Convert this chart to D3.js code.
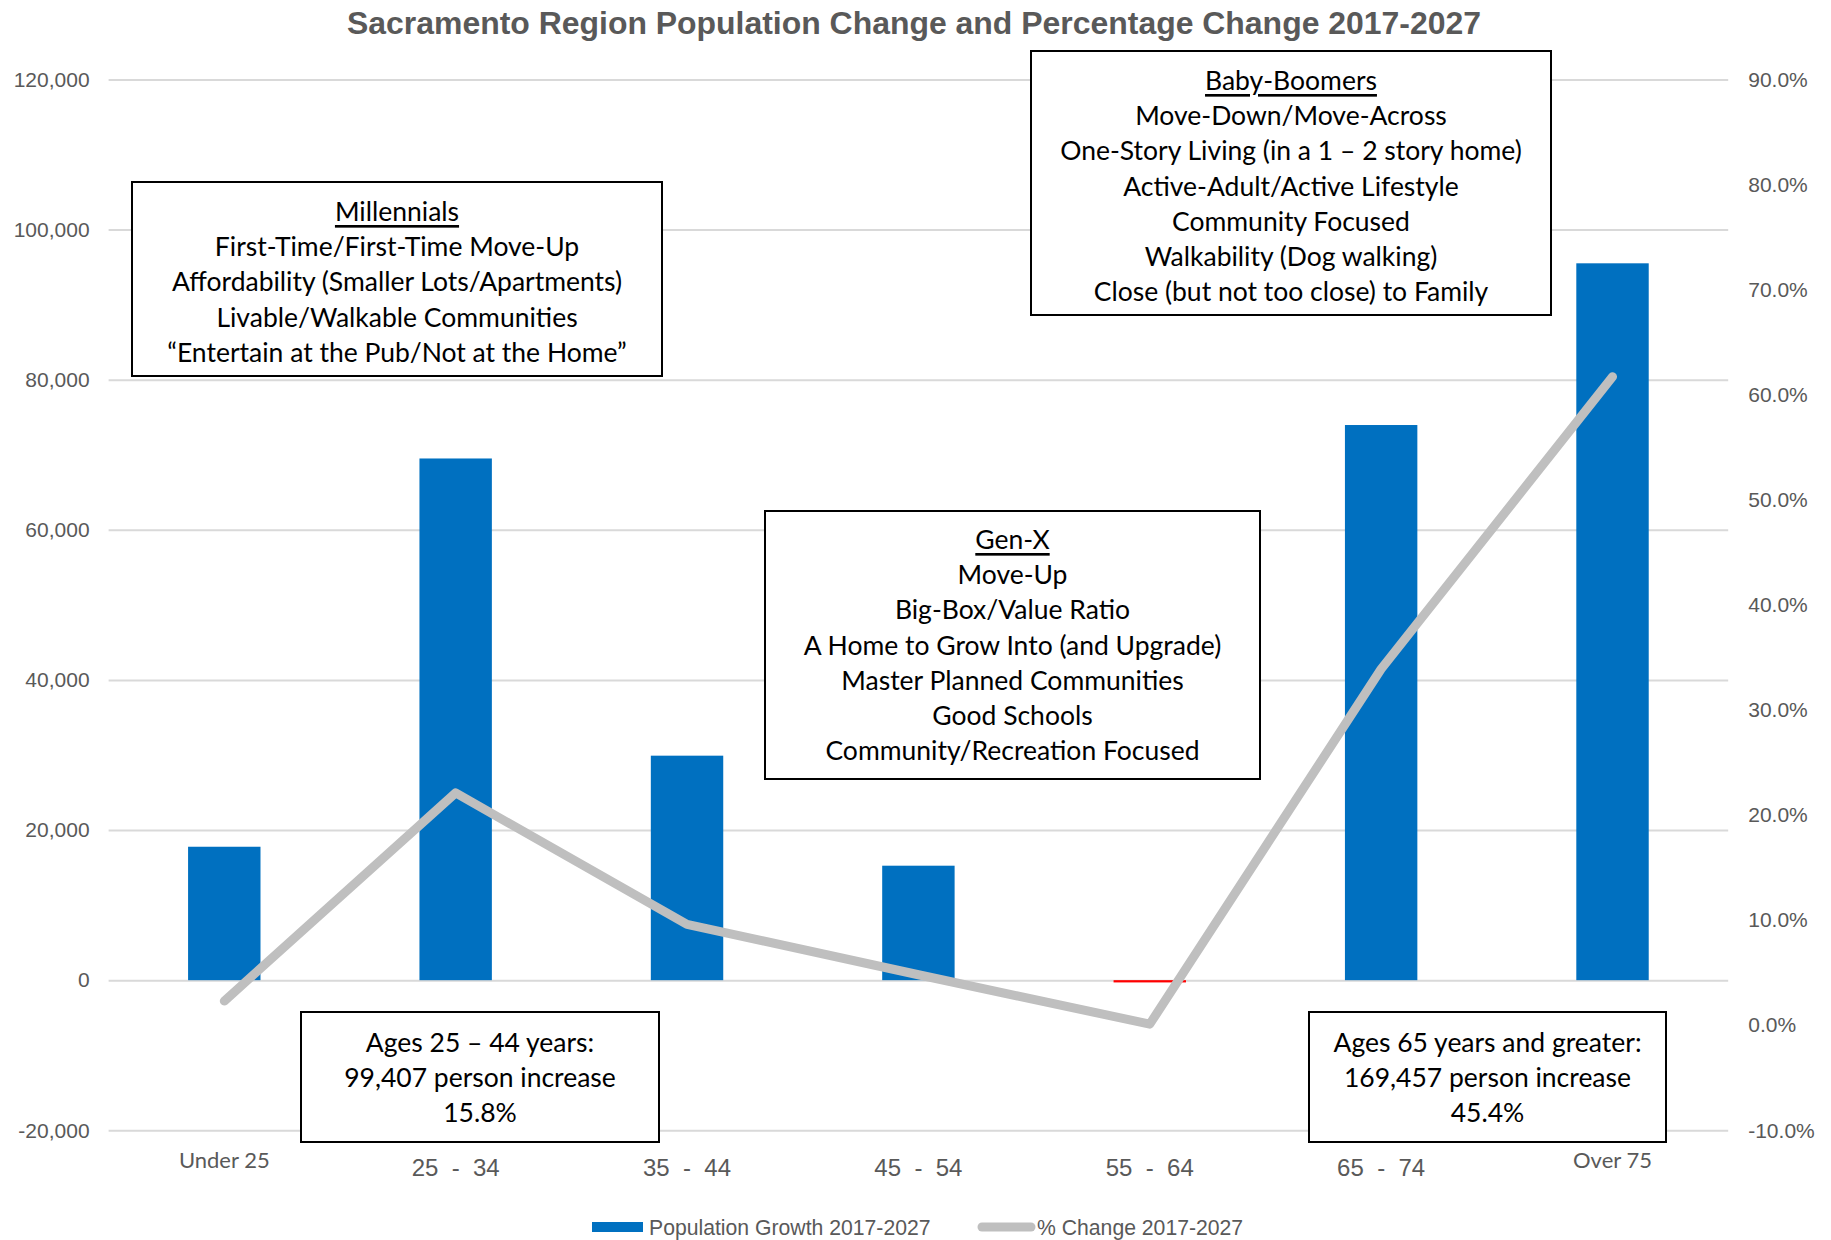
<!DOCTYPE html>
<html>
<head>
<meta charset="utf-8">
<script src="https://cdn.jsdelivr.net/npm/d3@7"></script>
<style>
  body { margin: 0; background: #fff; }
  text { font-family: "Liberation Sans", Arial, sans-serif; }
  .box text { font-family: Lato, "Open Sans", sans-serif; fill: #000; }
</style>
</head>
<body>
<div id="container"></div>
<script>
// age groups along the bottom
const categories = ["Under 25", "25 - 34", "35 - 44", "45 - 54", "55 - 64", "65 - 74", "Over 75"];
// population growth 2017-2027 (bars, left axis)
const popGrowth = [17775, 69500, 29907, 15250, -300, 73957, 95500];
// % change 2017-2027 (line, right axis)
const pctChange = [0.023, 0.221, 0.096, 0.048, 0.001, 0.339, 0.617];
// axis ticks
const leftTicks = [-20000, 0, 20000, 40000, 60000, 80000, 100000, 120000];
const rightTicks = [-0.1, 0, 0.1, 0.2, 0.3, 0.4, 0.5, 0.6, 0.7, 0.8, 0.9];

// annotation boxes: first line of the generation boxes is underlined
const boxMillennials = ["Millennials", "First-Time/First-Time Move-Up", "Affordability (Smaller Lots/Apartments)", "Livable/Walkable Communities", "\u201CEntertain at the Pub/Not at the Home\u201D"];
const boxBoomers = ["Baby-Boomers", "Move-Down/Move-Across", "One-Story Living (in a 1 \u2013 2 story home)", "Active-Adult/Active Lifestyle", "Community Focused", "Walkability (Dog walking)", "Close (but not too close) to Family"];
const boxGenX = ["Gen-X", "Move-Up", "Big-Box/Value Ratio", "A Home to Grow Into (and Upgrade)", "Master Planned Communities", "Good Schools", "Community/Recreation Focused"];
const boxYoung = ["Ages 25 \u2013 44 years:", "99,407 person increase", "15.8%"];
const boxOld = ["Ages 65 years and greater:", "169,457 person increase", "45.4%"];

const width = 1831;
const height = 1240;
const plotLeft = 108.6;
const plotRight = 1728.2;
const plotTop = 79.4;
const plotBottom = 1130.3;
const grey = "#595959";

// Excel uses a plain hyphen for negatives
const fmtLeft = d => d3.format(",")(d).replace("\u2212", "-");
const fmtRight = d => d3.format(".1%")(d).replace("\u2212", "-");

const svg = d3.select("#container")
    .append("svg")
    .attr("width", width)
    .attr("height", height);

const x = d3.scaleBand()
    .domain(categories)
    .range([plotLeft, plotRight])
    .padding(0);
const barWidth = x.bandwidth() * 0.313;

const yLeft = d3.scaleLinear()
    .domain([-20000, 120000])
    .range([plotBottom, plotTop]);

const yRight = d3.scaleLinear()
    .domain([-0.1, 0.9])
    .range([plotBottom, plotTop]);

//gridlines from the left axis
svg.append("g")
    .attr("transform", `translate(${plotLeft},0)`)
    .call(d3.axisLeft(yLeft).tickValues(leftTicks).tickSize(-(plotRight - plotLeft)).tickFormat(""))
    .call(g => g.select(".domain").remove())
    .call(g => g.selectAll("line").attr("stroke", "#D9D9D9").attr("stroke-width", 2));

//left axis labels
svg.append("g")
    .attr("transform", `translate(${plotLeft},0)`)
    .call(d3.axisLeft(yLeft).tickValues(leftTicks).tickSize(0).tickPadding(19).tickFormat(fmtLeft))
    .call(g => g.select(".domain").remove())
    .call(g => g.selectAll("text").attr("fill", grey).style("font-size", "21px").style("font-family", "Liberation Sans"));

//right axis labels
svg.append("g")
    .attr("transform", `translate(${plotRight},0)`)
    .call(d3.axisRight(yRight).tickValues(rightTicks).tickSize(0).tickPadding(20).tickFormat(fmtRight))
    .call(g => g.select(".domain").remove())
    .call(g => g.selectAll("text").attr("fill", grey).style("font-size", "21px").style("font-family", "Liberation Sans"));

//bars, red when negative
svg.selectAll(".bar")
    .data(popGrowth)
    .join("rect")
    .attr("class", "bar")
    .attr("x", (d, i) => x(categories[i]) + x.bandwidth() / 2 - barWidth / 2)
    .attr("y", d => yLeft(Math.max(d, 0)))
    .attr("width", barWidth)
    .attr("height", d => Math.max(Math.abs(yLeft(d) - yLeft(0)), 1.5))
    .attr("fill", d => d < 0 ? "#FF0000" : "#0070C0");

//category labels; the end ones are in a different font in the original
svg.selectAll(".cat")
    .data(categories)
    .join("text")
    .attr("class", "cat")
    .attr("x", d => x(d) + x.bandwidth() / 2)
    .attr("y", (d, i) => (i === 0 || i === 6) ? 1168 : 1176)
    .attr("text-anchor", "middle")
    .attr("fill", grey)
    .style("font-family", (d, i) => (i === 0 || i === 6) ? "Lato" : "Liberation Sans")
    .style("font-size", (d, i) => (i === 0 || i === 6) ? "22px" : "24px")
    .style("white-space", "pre")
    .text(d => d.replace(" - ", "  -  "));

//% change line
const line = d3.line()
    .x((d, i) => x(categories[i]) + x.bandwidth() / 2)
    .y(d => yRight(d));

svg.append("path")
    .datum(pctChange)
    .attr("d", line)
    .attr("fill", "none")
    .attr("stroke", "#BFBFBF")
    .attr("stroke-width", 9)
    .attr("stroke-linecap", "round")
    .attr("stroke-linejoin", "round");

//title
svg.append("text")
    .attr("x", 914)
    .attr("y", 34)
    .attr("text-anchor", "middle")
    .attr("fill", grey)
    .attr("textLength", 1134)
    .attr("lengthAdjust", "spacingAndGlyphs")
    .style("font-size", "31px")
    .style("font-weight", "bold")
    .text("Sacramento Region Population Change and Percentage Change 2017-2027");

//text boxes
function textBox(lines, x0, y0, w, h, firstY, underline) {
    const g = svg.append("g").attr("class", "box");
    g.append("rect")
        .attr("x", x0).attr("y", y0)
        .attr("width", w).attr("height", h)
        .attr("fill", "white")
        .attr("stroke", "black")
        .attr("stroke-width", 2);
    lines.forEach((t, i) => {
        g.append("text")
            .attr("x", x0 + w / 2)
            .attr("y", firstY + i * 35.2)
            .attr("text-anchor", "middle")
            .attr("dominant-baseline", "central")
            .style("font-size", "26.5px")
            .style("text-decoration", (underline && i === 0) ? "underline" : "none")
            .text(t);
    });
}

textBox(boxMillennials, 132, 182, 530, 194, 211, true);
textBox(boxBoomers, 1031, 51, 520, 264, 80, true);
textBox(boxGenX, 765, 511, 495, 268, 539, true);
textBox(boxYoung, 301, 1012, 358, 130, 1042, false);
textBox(boxOld, 1309, 1012, 357, 130, 1042, false);

//legend
svg.append("rect")
    .attr("x", 592).attr("y", 1222)
    .attr("width", 51).attr("height", 10)
    .attr("fill", "#0070C0");
svg.append("text")
    .attr("x", 649).attr("y", 1235)
    .attr("fill", grey)
    .style("font-size", "21.2px")
    .text("Population Growth 2017-2027");
svg.append("line")
    .attr("x1", 982).attr("x2", 1031)
    .attr("y1", 1227).attr("y2", 1227)
    .attr("stroke", "#BFBFBF")
    .attr("stroke-width", 9)
    .attr("stroke-linecap", "round");
svg.append("text")
    .attr("x", 1037).attr("y", 1235)
    .attr("fill", grey)
    .style("font-size", "21.2px")
    .text("% Change 2017-2027");
</script>
</body>
</html>
